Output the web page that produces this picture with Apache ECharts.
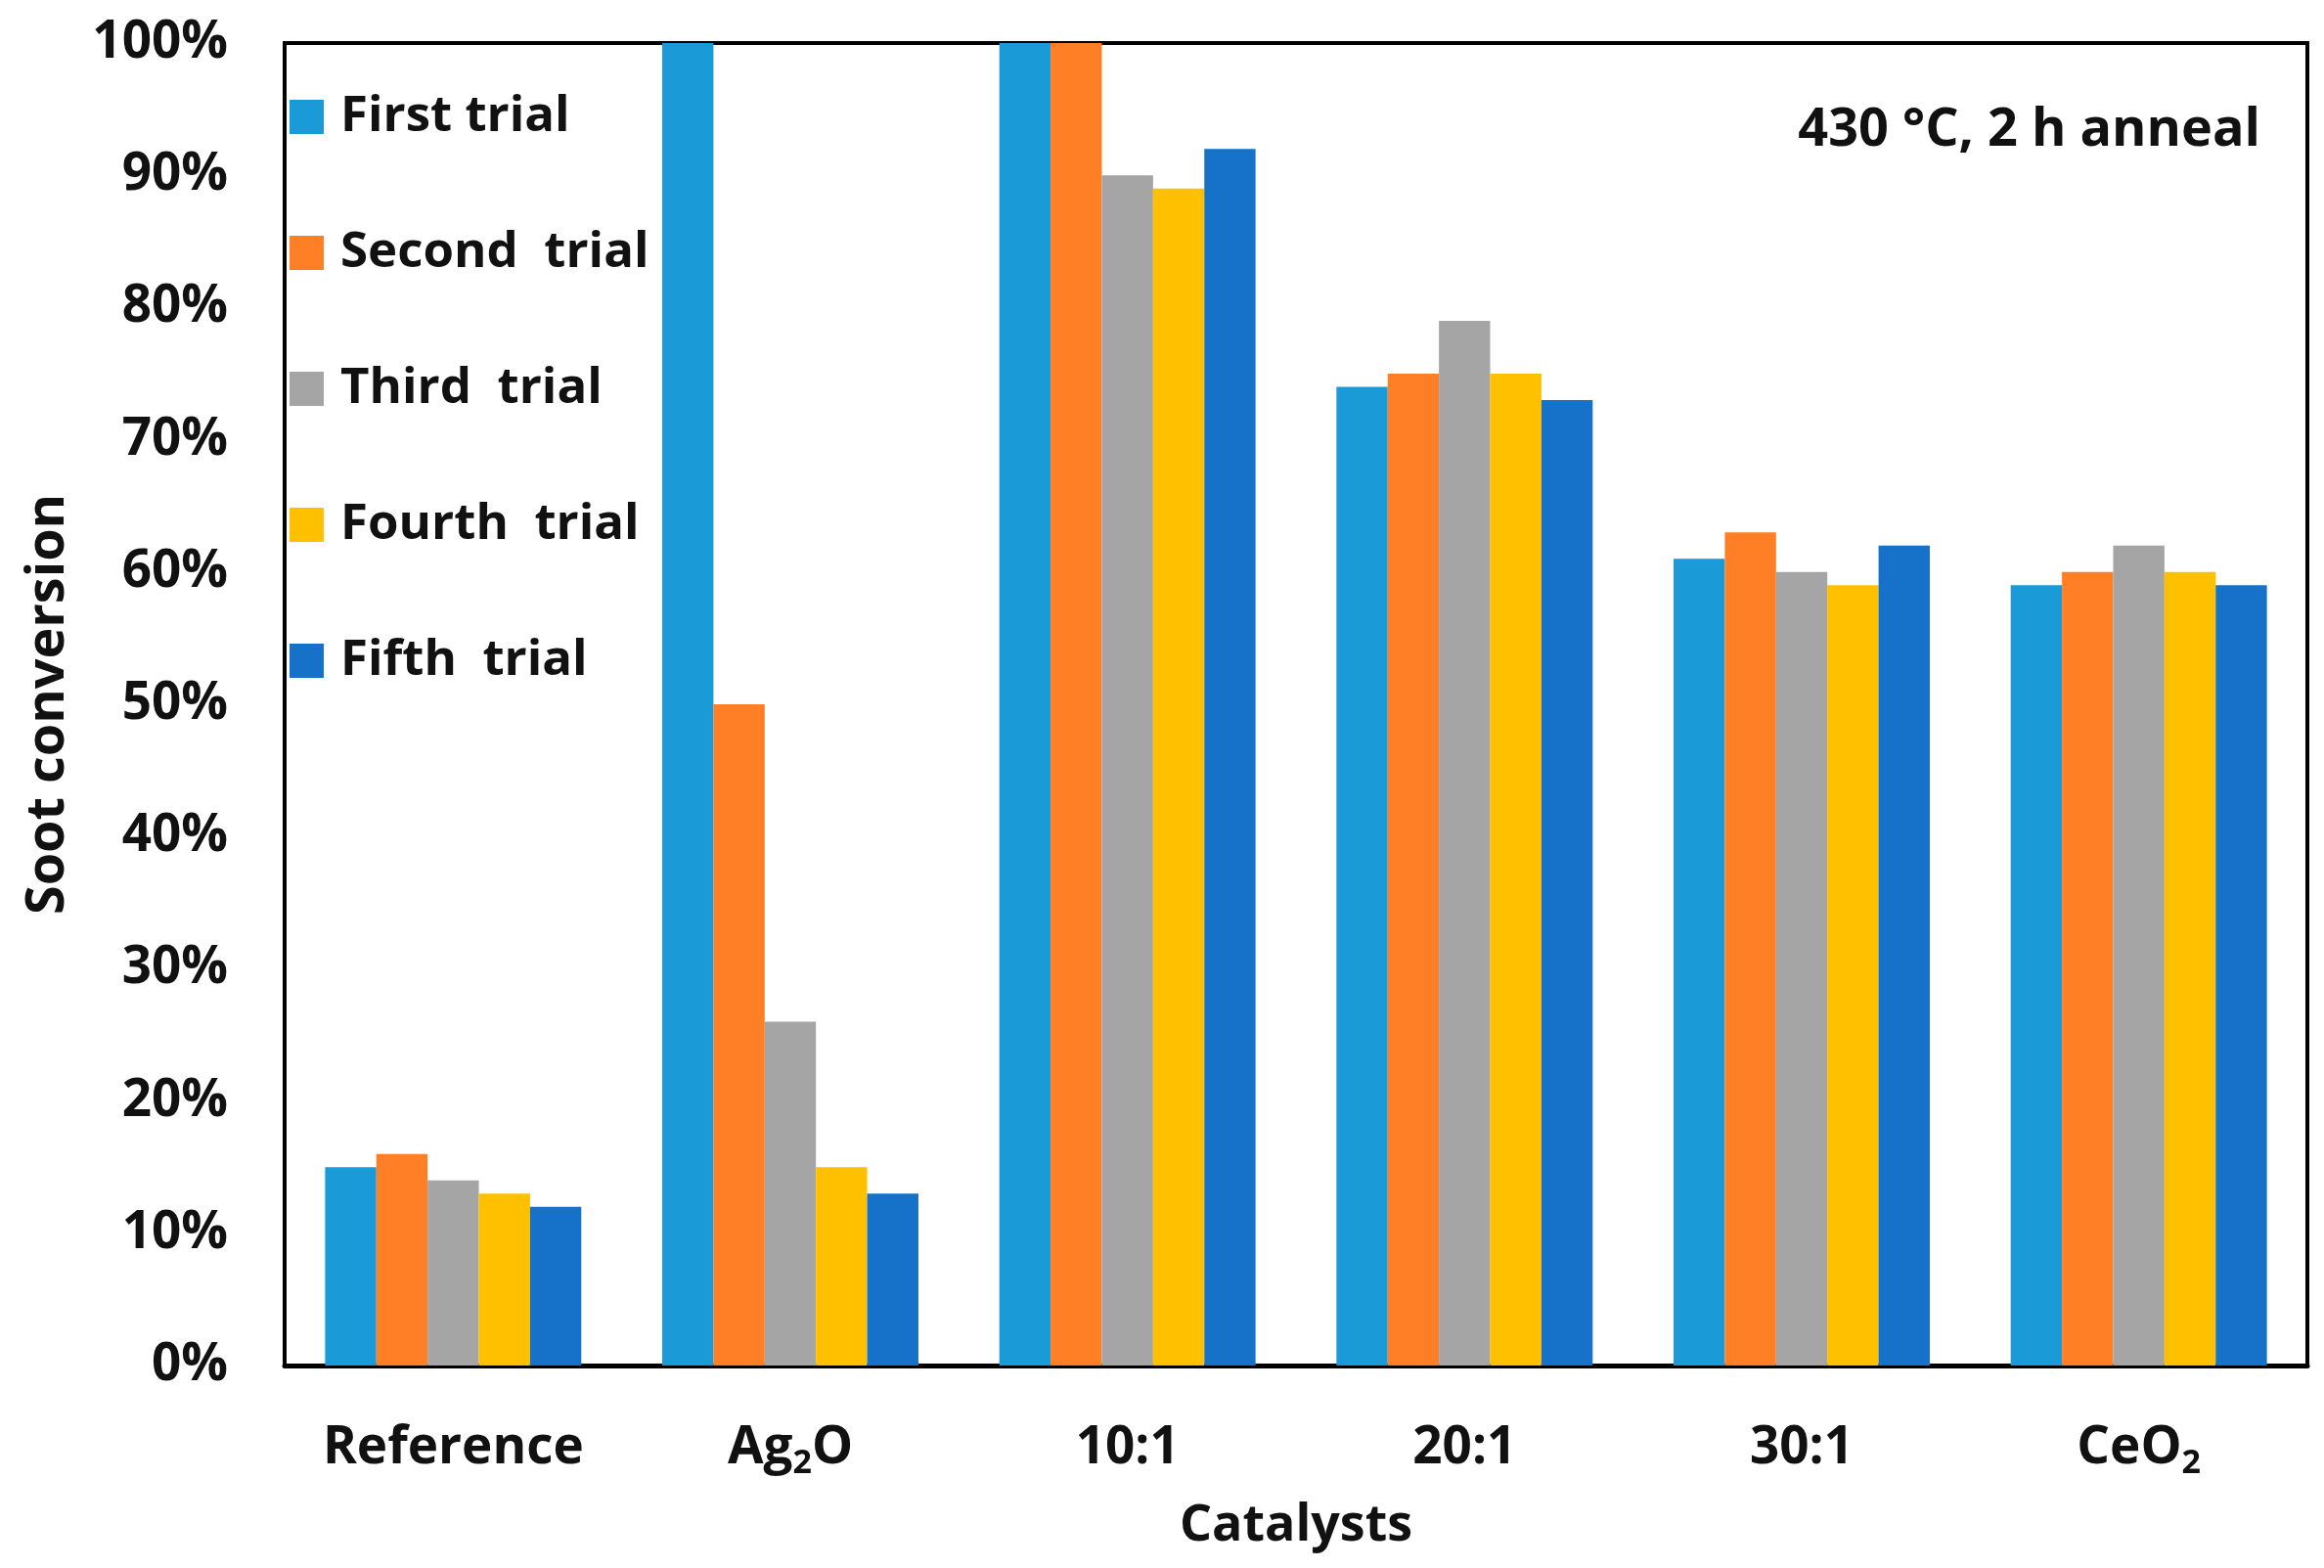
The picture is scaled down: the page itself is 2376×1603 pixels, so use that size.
<!DOCTYPE html>
<html>
<head>
<meta charset="utf-8">
<script src="https://cdn.jsdelivr.net/npm/echarts@6/dist/echarts.min.js"></script>
<style>
html,body{margin:0;padding:0;background:#fff;}
#chart{width:2376px;height:1603px;}
</style>
</head>
<body>
<div id="chart"></div>
<script>
var categories = ['Reference', 'Ag2O', '10:1', '20:1', '30:1', 'CeO2'];
var seriesNames = ['First trial', 'Second  trial', 'Third  trial', 'Fourth  trial', 'Fifth  trial'];
var firstTrial  = [15, 100, 100, 74, 61, 59];
var secondTrial = [16, 50, 100, 75, 63, 60];
var thirdTrial  = [14, 26, 90, 79, 60, 62];
var fourthTrial = [13, 15, 89, 75, 59, 60];
var fifthTrial  = [12, 13, 92, 73, 62, 59];
var colors = ['#1A9AD6', '#FF7F27', '#A5A5A5', '#FFC000', '#1672C8'];
var yTicks = { min: 0, max: 100, interval: 10 };
var annotation = '430 \u00B0C, 2 h anneal';

var FONT = '"Open Sans", "DejaVu Sans", sans-serif';
var allData = [firstTrial, secondTrial, thirdTrial, fourthTrial, fifthTrial];

function fmtCat(v) {
  var m = v.match(/^([A-Za-z]+)(\d)([A-Za-z]*)$/);
  if (m) {
    var s = '{n|' + m[1] + '}{s|' + m[2] + '}';
    if (m[3]) s += '{n|' + m[3] + '}';
    return s;
  }
  return '{n|' + v + '}';
}

var chart = echarts.init(document.getElementById('chart'), null, { renderer: 'canvas' });
var option = {
  backgroundColor: '#ffffff',
  animation: false,
  color: colors,
  title: {
    text: annotation,
    right: 60,
    top: 102,
    textStyle: { fontFamily: FONT, fontWeight: 'bold', fontSize: 54, color: '#111' }
  },
  legend: {
    orient: 'vertical',
    left: 291,
    top: 89,
    icon: 'rect',
    itemWidth: 35,
    itemHeight: 35,
    itemGap: 88,
    data: seriesNames,
    textStyle: {
      fontFamily: FONT, fontWeight: 'bold', fontSize: 51, color: '#111',
      lineHeight: 35, padding: [0, 0, 0, 12]
    }
  },
  grid: {
    left: 291, right: 17, top: 44, bottom: 207,
    show: true, borderColor: '#000', borderWidth: 4, backgroundColor: 'transparent',
    containLabel: false
  },
  xAxis: {
    type: 'category',
    data: categories,
    name: 'Catalysts',
    nameLocation: 'middle',
    nameGap: 138,
    nameTextStyle: { fontFamily: FONT, fontWeight: 'bold', fontSize: 52, color: '#111' },
    axisLine: { show: true, lineStyle: { color: '#000', width: 5 } },
    axisTick: { show: false },
    axisLabel: {
      margin: 54,
      formatter: fmtCat,
      rich: {
        n: { fontFamily: FONT, fontWeight: 'bold', fontSize: 53, color: '#111', lineHeight: 62 },
        s: { fontFamily: FONT, fontWeight: 'bold', fontSize: 34, color: '#111', lineHeight: 34, padding: [30, 0, 0, 0], verticalAlign: 'middle' }
      }
    },
    splitLine: { show: false }
  },
  yAxis: {
    type: 'value',
    min: yTicks.min,
    max: yTicks.max,
    interval: yTicks.interval,
    name: 'Soot conversion',
    nameLocation: 'middle',
    nameGap: 214,
    nameRotate: 90,
    nameTextStyle: { fontFamily: FONT, fontWeight: 'bold', fontSize: 54, color: '#111' },
    axisLine: { show: true, lineStyle: { color: '#000', width: 4 } },
    axisTick: { show: false },
    splitLine: { show: false },
    axisLabel: {
      margin: 58,
      formatter: '{value}%',
      fontFamily: FONT, fontWeight: 'bold', fontSize: 53, color: '#111'
    }
  },
  series: seriesNames.map(function (name, i) {
    return {
      name: name,
      type: 'bar',
      data: allData[i],
      barGap: '0%',
      barCategoryGap: '24%',
      itemStyle: { color: colors[i] }
    };
  })
};
chart.setOption(option);
</script>
</body>
</html>
